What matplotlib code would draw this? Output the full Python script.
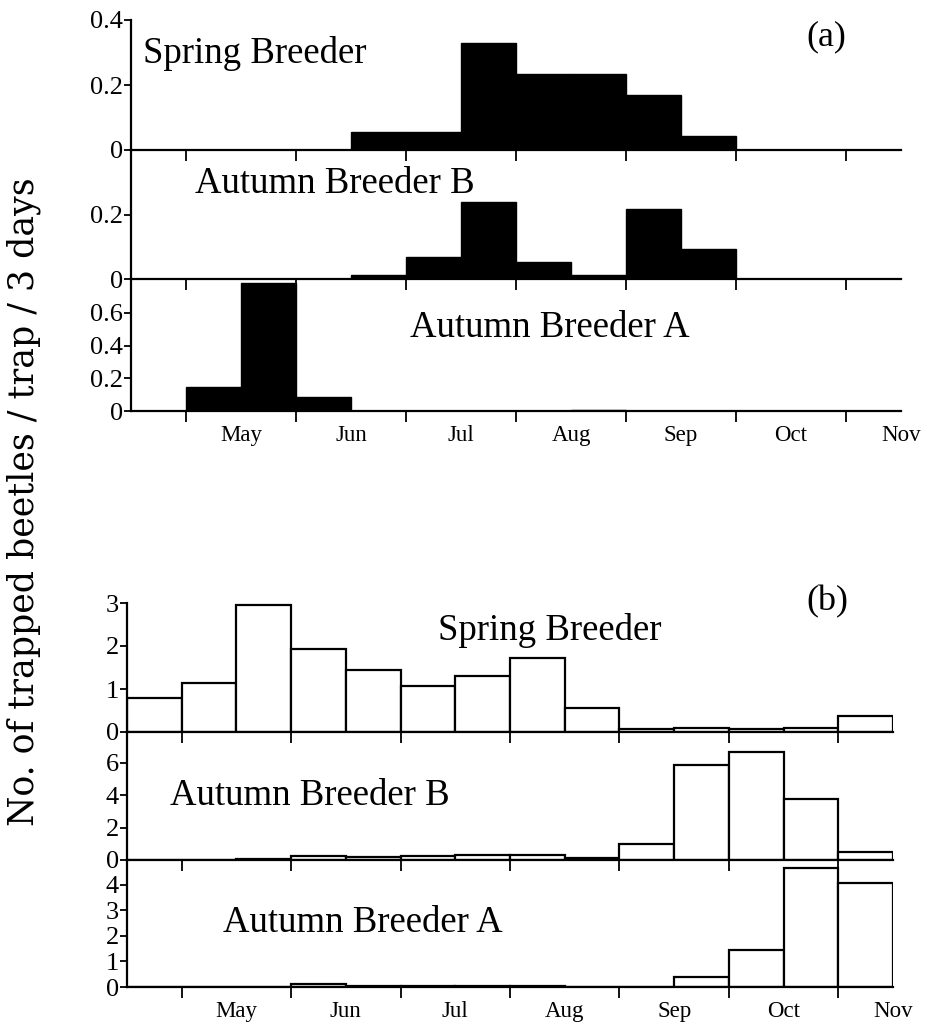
import numpy as np
import matplotlib
matplotlib.use("Agg")
import matplotlib.pyplot as plt

# half-month bins, second half of April .. first half of November
n_bins = 14
months = ["May", "Jun", "Jul", "Aug", "Sep", "Oct", "Nov"]

# panel (a)
a_spring = [0, 0, 0, 0, 0.055, 0.055, 0.33, 0.235, 0.235, 0.17, 0.043, 0, 0, 0]
a_autB = [0, 0, 0, 0, 0.012, 0.07, 0.24, 0.053, 0.012, 0.22, 0.094, 0, 0, 0]
a_autA = [0, 0.147, 0.785, 0.086, 0, 0, 0, 0, 0.008, 0, 0, 0, 0, 0]

# panel (b)
b_spring = [0.78, 1.13, 2.95, 1.93, 1.45, 1.07, 1.3, 1.72, 0.55, 0.06, 0.1, 0.06, 0.1, 0.37]
b_autB = [0, 0, 0.08, 0.25, 0.18, 0.25, 0.33, 0.3, 0.15, 1.0, 5.86, 6.67, 3.77, 0.5]
b_autA = [0, 0, 0, 0.12, 0.05, 0.03, 0.03, 0.02, 0.01, 0, 0.4, 1.45, 4.67, 4.08]

a_ticks = [[0, 0.2, 0.4], [0, 0.2], [0, 0.2, 0.4, 0.6]]
a_ticklabels = [["0", "0.2", "0.4"], ["0", "0.2"], ["0", "0.2", "0.4", "0.6"]]
b_ticks = [[0, 1, 2, 3], [0, 2, 4, 6], [0, 1, 2, 3, 4]]
b_ticklabels = [["0", "1", "2", "3"], ["0", "2", "4", "6"], ["0", "1", "2", "3", "4"]]

W, H = 927, 1023
fig = plt.figure(figsize=(W / 100, H / 100), dpi=100)
serif = "Liberation Serif"


def make_ax(left, right, top, bottom):
    # pixel box -> figure fraction
    return fig.add_axes([left / W, 1 - bottom / H, (right - left) / W, (bottom - top) / H])


def style(ax, ylim, ticks, labels, last):
    ax.set_xlim(0, n_bins)
    ax.set_ylim(*ylim)
    for s in ["top", "right"]:
        ax.spines[s].set_visible(False)
    for s in ["left", "bottom"]:
        ax.spines[s].set_linewidth(1.6)
    ax.set_yticks(ticks)
    ax.set_yticklabels(labels, fontsize=19, family=serif)
    ax.tick_params(axis="y", direction="out", length=5, width=1.3, pad=1)
    ax.set_xticks(np.arange(1, n_bins, 2))
    ax.tick_params(axis="x", direction="out", length=8, width=1.3)
    ax.set_xticklabels([])
    ax.patch.set_alpha(0)
    if last:
        ax.set_xticks(np.arange(2, n_bins + 1, 2), minor=True)
        ax.set_xticklabels(months, minor=True, fontsize=16.5, family=serif)
        ax.tick_params(axis="x", which="minor", length=0, pad=10)


x = np.arange(n_bins) + 0.5

# ---------- panel (a) ----------
ax1 = make_ax(131, 901, 20, 150)
ax2 = make_ax(131, 901, 150, 279)
ax3 = make_ax(131, 901, 279, 411)
for ax, vals, ylim, i in [(ax1, a_spring, (0, 0.4), 0),
                           (ax2, a_autB, (0, 0.403), 1),
                           (ax3, a_autA, (0, 0.807), 2)]:
    ax.bar(x, vals, width=1.0, color="black", edgecolor="black", linewidth=1)
    style(ax, ylim, a_ticks[i], a_ticklabels[i], i == 2)

fig.text(143 / W, 1 - 63 / H, "Spring Breeder", fontsize=26.5, family=serif, va="baseline")
fig.text(195 / W, 1 - 193 / H, "Autumn Breeder B", fontsize=26.5, family=serif, va="baseline")
fig.text(410 / W, 1 - 337 / H, "Autumn Breeder A", fontsize=26.5, family=serif, va="baseline")
fig.text(826 / W, 1 - 45 / H, "(a)", fontsize=26, family=serif, va="baseline", ha="center")

# ---------- panel (b) ----------
bx1 = make_ax(127, 893, 603, 732)
bx2 = make_ax(127, 893, 732, 860)
bx3 = make_ax(127, 893, 860, 987)
for ax, vals, ylim, i in [(bx1, b_spring, (0, 3), 0),
                           (bx2, b_autB, (0, 7.9), 1),
                           (bx3, b_autA, (0, 4.98), 2)]:
    ax.bar(x, vals, width=1.0, color="white", edgecolor="black", linewidth=1.6)
    style(ax, ylim, b_ticks[i], b_ticklabels[i], i == 2)

fig.text(438 / W, 1 - 640 / H, "Spring Breeder", fontsize=26.5, family=serif, va="baseline")
fig.text(170 / W, 1 - 805 / H, "Autumn Breeder B", fontsize=26.5, family=serif, va="baseline")
fig.text(223 / W, 1 - 932 / H, "Autumn Breeder A", fontsize=26.5, family=serif, va="baseline")
fig.text(827 / W, 1 - 610 / H, "(b)", fontsize=26, family=serif, va="baseline", ha="center")

fig.text(24 / W, 1 - 502 / H, "No. of trapped beetles / trap / 3 days",
         rotation=90, fontsize=25, family="DejaVu Serif", ha="center", va="center")

fig.savefig("out.png", dpi=100)
